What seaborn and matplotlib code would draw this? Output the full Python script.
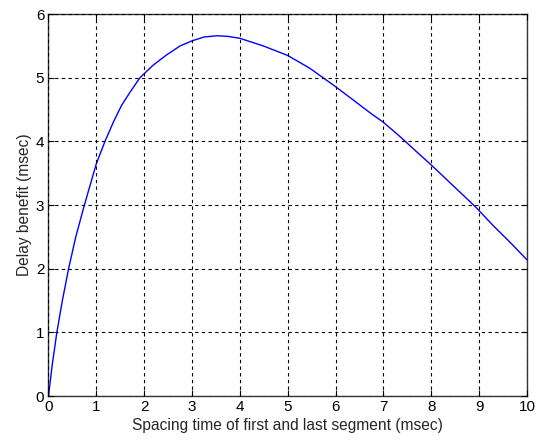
import matplotlib
matplotlib.use("Agg")
import matplotlib.pyplot as plt
import seaborn as sns
import pandas as pd

# Spacing time (msec) and the resulting delay benefit (msec)
spacing = [0.0, 0.08, 0.175, 0.29, 0.42, 0.57, 0.75, 1.0, 1.18, 1.36, 1.53,
           1.71, 1.91, 2.19, 2.47, 2.75, 3.0, 3.25, 3.52, 3.75, 4.0, 4.49,
           5.0, 5.46, 5.74, 6.0, 6.37, 6.72, 7.0, 7.34, 7.69, 8.0, 8.35,
           8.66, 8.94, 9.29, 9.64, 10.0]
benefit = [0.0, 0.5, 1.0, 1.5, 2.0, 2.5, 3.0, 3.65, 4.0, 4.31, 4.57,
           4.78, 5.0, 5.2, 5.36, 5.5, 5.58, 5.64, 5.66, 5.65, 5.62, 5.5,
           5.35, 5.15, 5.0, 4.86, 4.65, 4.45, 4.3, 4.08, 3.84, 3.63, 3.38,
           3.16, 2.96, 2.68, 2.42, 2.14]

x_ticks = list(range(0, 11))
y_ticks = list(range(0, 7))
x_label = "Spacing time of first and last segment (msec)"
y_label = "Delay benefit (msec)"

sns.set_style("white")
plt.rcParams["font.family"] = ["Liberation Sans", "DejaVu Sans"]

df = pd.DataFrame({"spacing": spacing, "benefit": benefit})

fig = plt.figure(figsize=(5.43, 4.41), dpi=100)
ax = fig.add_axes([0.0893, 0.102, 0.8812, 0.866])

sns.lineplot(data=df, x="spacing", y="benefit", ax=ax, color="#0000FF",
             linewidth=1.0, sort=True)

ax.set_xlim(0, 10)
ax.set_ylim(0, 6)
ax.set_xticks(x_ticks)
ax.set_yticks(y_ticks)
ax.set_xticklabels([str(t) for t in x_ticks], fontsize=11)
ax.set_yticklabels([str(t) for t in y_ticks], fontsize=11)
ax.set_xlabel(x_label, fontsize=11.2, labelpad=3)
ax.set_ylabel(y_label, fontsize=11.2, labelpad=3)

ax.grid(True, color="black", linestyle=(0, (3, 3)), linewidth=0.8)
ax.set_axisbelow(False)
ax.tick_params(direction="in", length=4, width=0.8, top=True, right=True,
               bottom=True, left=True, pad=3, colors="black")
for side in ax.spines.values():
    side.set_visible(True)
    side.set_color("#333333")
    side.set_linewidth(1.0)

fig.savefig("out.png", dpi=100, facecolor="white")
